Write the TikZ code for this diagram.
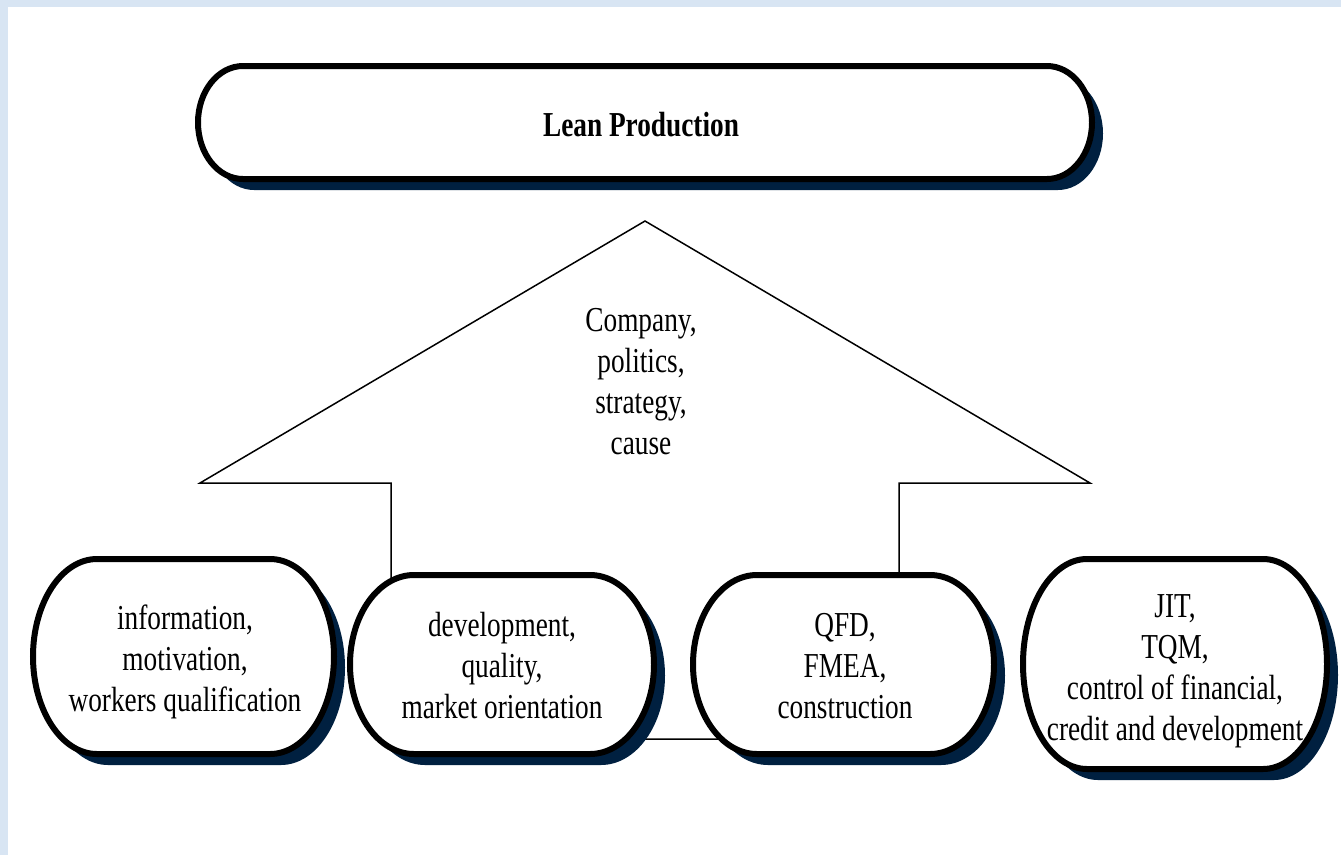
\documentclass[tikz,border=0pt]{standalone}
\usepackage{fontspec}
\setmainfont{Liberation Serif}[FakeStretch=0.78]
\usepackage{tikz}

\definecolor{paperblue}{RGB}{216,229,243}
\definecolor{navyshade}{RGB}{0,32,64}

% capsule outline: left, top, right, bottom, end radius
\newcommand{\capsulepath}[5]{(#1+#5,#2) -- (#3-#5,#2) arc[start angle=-90, end angle=90, x radius=#5, y radius={(#4-#2)/2}] -- (#1+#5,#4) arc[start angle=90, end angle=270, x radius=#5, y radius={(#4-#2)/2}] -- cycle}
\newcommand{\drawcapsule}[5]{%
  \fill[shadowfill, shift={(11,11)}] \capsulepath{#1}{#2}{#3}{#4}{#5};
  \path[capsule] \capsulepath{#1}{#2}{#3}{#4}{#5};
}

\begin{document}
\begin{tikzpicture}[x=1pt, y=-1pt]
\tikzset{
  shadowfill/.style={fill=navyshade},
  capsule/.style={
    draw=black,
    line width=6pt,
    fill=white
  },
  itemtext/.style={
    align=center,
    inner sep=0pt,
    font=\fontsize{35}{41}\selectfont
  },
  arrowline/.style={draw=black, line width=1.5pt, line join=miter}
}
% Page
\useasboundingbox (0,0) rectangle (1341,855);
\fill[paperblue] (0,0) rectangle (1341,855);
\fill[white] (8,7) rectangle (1341,855);

% Big arrow
\path[arrowline] (645,221) -- (1090,483) -- (899,483) -- (899,739) -- (391,739) -- (391,483) -- (200,483) -- cycle;
\node[itemtext] (company) at (641,382) {Company,\\politics,\\strategy,\\cause};

% Lean Production
\drawcapsule{198}{66}{1092}{179}{45}
\node[itemtext, font=\fontsize{35}{41}\selectfont\bfseries] (lean) at (641,125) {Lean Production};

% Pillars
\drawcapsule{33}{559}{334}{754}{64}
\node[itemtext] (info) at (185,662) {information,\\motivation,\\workers qualification};

\drawcapsule{350}{575}{654}{754}{64}
\node[itemtext] (devel) at (502,666) {development,\\quality,\\market orientation};

\drawcapsule{693}{575}{994}{754}{64}
\node[itemtext] (qfd) at (845,666) {QFD,\\FMEA,\\construction};

\drawcapsule{1023}{559}{1327}{769}{64}
\node[itemtext] (jit) at (1175,671) {JIT,\\TQM,\\control of financial,\\credit and development};

\end{tikzpicture}
\end{document}
